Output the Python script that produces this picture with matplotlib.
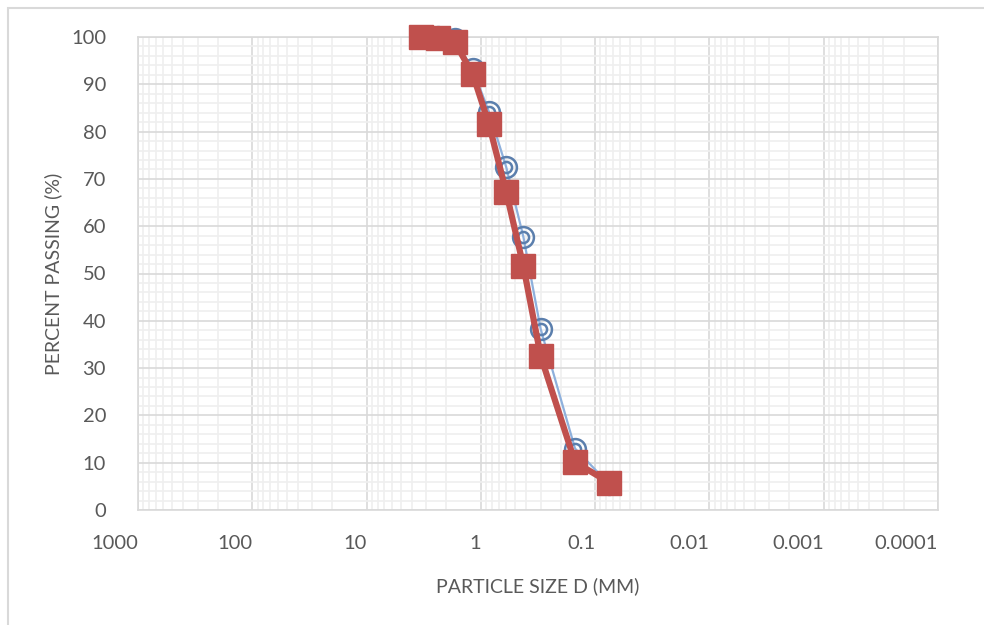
import numpy as np
import matplotlib.pyplot as plt
from matplotlib.patches import Rectangle
from matplotlib.ticker import FixedLocator, NullFormatter

sieve = [3.35, 2.36, 1.7, 1.18, 0.85, 0.6, 0.425, 0.3, 0.15, 0.075]
pass_1 = [100, 100, 99.5, 93.2, 84.2, 72.5, 57.8, 38.3, 13.0, 5.4]
pass_2 = [100, 99.7, 99.0, 92.2, 81.6, 67.2, 51.6, 32.6, 10.1, 5.8]
xticks = [1000, 100, 10, 1, 0.1, 0.01, 0.001, 0.0001]
xlabels = ['1000', '100', '10', '1', '0.1', '0.01', '0.001', '0.0001']

plt.rcParams['font.family'] = ['Lato', 'DejaVu Sans']

fig = plt.figure(figsize=(9.84, 6.25), dpi=100)
ax = fig.add_axes([138/984, 1 - 510/625, 800/984, 473/625])

fig.patches.append(Rectangle((8/984, -0.1), 1.2, 1 - 8/625 + 0.1,
                             transform=fig.transFigure, fill=False,
                             edgecolor='#d9d9d9', linewidth=1.5))

ax.set_xscale('log')
ax.set_xlim(1000, 0.0001)
ax.set_ylim(0, 100)

ax.xaxis.set_major_locator(FixedLocator(xticks))
minors = [m * 10.0**e for e in range(-4, 3) for m in range(2, 10)]
ax.xaxis.set_minor_locator(FixedLocator(minors))
ax.xaxis.set_minor_formatter(NullFormatter())
ax.set_xticklabels(xlabels, ha='right')
ax.set_yticks(np.arange(0, 101, 10))
ax.set_yticks(np.arange(0, 101, 2), minor=True)

ax.grid(which='major', color='#d9d9d9', linewidth=1.2)
ax.grid(which='minor', color='#efefef', linewidth=1.2)
ax.set_axisbelow(True)
for s in ax.spines.values():
    s.set_color('#d9d9d9')
    s.set_linewidth(1.2)
ax.tick_params(which='both', length=0, colors='#595959', labelsize=14.5)
ax.tick_params(axis='x', pad=18)
ax.tick_params(axis='y', pad=23)

ax.plot(sieve, pass_1, color='#8eb0dc', linewidth=1.6, zorder=3, clip_on=False)
ax.plot(sieve, pass_1, linestyle='none', marker='o', markersize=15,
        markerfacecolor='none', markeredgecolor='#5b7fad', markeredgewidth=1.8,
        zorder=3, clip_on=False)
ax.plot(sieve, pass_1, linestyle='none', marker='o', markersize=8,
        markerfacecolor='none', markeredgecolor='#5b7fad', markeredgewidth=1.8,
        zorder=3, clip_on=False)
ax.plot(sieve, pass_2, color='#c0504d', linewidth=4.5, marker='s', markersize=17,
        markerfacecolor='#c0504d', markeredgecolor='#c0504d', zorder=4, clip_on=False)

ax.set_xlabel('PARTICLE SIZE D (MM)', fontsize=14, color='#595959', labelpad=18)
ax.set_ylabel('PERCENT PASSING (%)', fontsize=14, color='#595959', labelpad=6)

fig.savefig('out.png', dpi=100)
